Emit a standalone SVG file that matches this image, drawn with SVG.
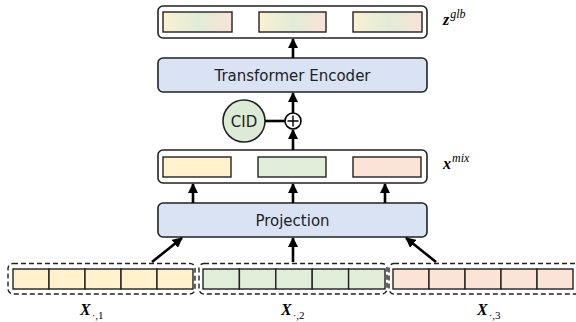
<svg xmlns="http://www.w3.org/2000/svg" width="576" height="322" viewBox="0 0 576 322">
<defs>
<linearGradient id="mixg" x1="0" y1="0" x2="1" y2="0">
<stop offset="0" stop-color="#fdf0d0"/>
<stop offset="0.5" stop-color="#e0ecd8"/>
<stop offset="1" stop-color="#f9e3d6"/>
</linearGradient>
<marker id="ah" viewBox="0 0 10 10" refX="9" refY="5" markerWidth="4" markerHeight="4" orient="auto" markerUnits="strokeWidth">
<path d="M0,0 L10,5 L0,10 z" fill="#000"/>
</marker>
</defs>
<style>
.outer{fill:#fff;stroke:#222;stroke-width:1.6}
.blue{fill:#dae3f3;stroke:#222;stroke-width:1.6}
.cell{stroke:#222;stroke-width:1.4}
.y{fill:#fff2cd}
.g{fill:#e0edd8}
.p{fill:#fbe3d6}
.dash{fill:none;stroke:#222;stroke-width:1.4;stroke-dasharray:5,3}
.lbl{font-family:"DejaVu Sans",sans-serif;font-size:15px;fill:#222;text-anchor:middle}
.math{font-family:"Liberation Serif",serif;fill:#000}
.conn{stroke:#000;stroke-width:2.6;fill:none;marker-end:url(#ah)}
</style>
<g id="zglb">
<rect class="outer" x="158" y="6" width="269" height="32" rx="5"/>
<rect class="cell" fill="url(#mixg)" x="163" y="12" width="69" height="20"/>
<rect class="cell" fill="url(#mixg)" x="259" y="12" width="67" height="20"/>
<rect class="cell" fill="url(#mixg)" x="353" y="12" width="69" height="20"/>
<text class="math" x="443" y="25" font-size="16"><tspan font-weight="bold" font-style="italic">z</tspan><tspan font-style="italic" font-size="12" dy="-7" dx="1">glb</tspan></text>
</g>
<g id="transformer">
<rect class="blue" x="158" y="58" width="269" height="34" rx="5"/>
<text class="lbl" x="292.5" y="80.5">Transformer Encoder</text>
</g>
<g id="cid">
<circle cx="244" cy="121" r="21" fill="#dcebd5" stroke="#222" stroke-width="1.6"/>
<text class="lbl" x="244" y="126.5">CID</text>
</g>
<g id="plus">
<circle cx="293" cy="121" r="8" fill="#fff" stroke="#000" stroke-width="1.6"/>
<path d="M287.5,121 H298.5 M293,115.5 V126.5" stroke="#000" stroke-width="1.4"/>
</g>
<g id="xmix">
<rect class="outer" x="158" y="150" width="269" height="33" rx="5"/>
<rect class="cell y" x="163" y="157" width="68" height="20"/>
<rect class="cell g" x="258" y="157" width="68" height="20"/>
<rect class="cell p" x="353" y="157" width="68" height="20"/>
<text class="math" x="443" y="169" font-size="16"><tspan font-weight="bold" font-style="italic">x</tspan><tspan font-style="italic" font-size="12" dy="-7" dx="1">mix</tspan></text>
</g>
<g id="projection">
<rect class="blue" x="158" y="203" width="269" height="34" rx="5"/>
<text class="lbl" x="292.5" y="225.5">Projection</text>
</g>
<g id="x1">
<rect class="dash" x="8" y="263.5" width="187" height="30.5" rx="5"/>
<rect class="cell y" x="13" y="269" width="36" height="20"/>
<rect class="cell y" x="49" y="269" width="36" height="20"/>
<rect class="cell y" x="85" y="269" width="36" height="20"/>
<rect class="cell y" x="121" y="269" width="36" height="20"/>
<rect class="cell y" x="157" y="269" width="36" height="20"/>
<text class="math" x="80" y="315" font-size="16"><tspan font-weight="bold" font-style="italic">X</tspan><tspan font-size="11" dy="4" dx="1">·,1</tspan></text>
</g>
<g id="x2">
<rect class="dash" x="199" y="263.5" width="188" height="30.5" rx="5"/>
<rect class="cell g" x="203" y="269" width="36.4" height="20"/>
<rect class="cell g" x="239.4" y="269" width="36.4" height="20"/>
<rect class="cell g" x="275.8" y="269" width="36.4" height="20"/>
<rect class="cell g" x="312.2" y="269" width="36.4" height="20"/>
<rect class="cell g" x="348.6" y="269" width="36.4" height="20"/>
<text class="math" x="281" y="315" font-size="16"><tspan font-weight="bold" font-style="italic">X</tspan><tspan font-size="11" dy="4" dx="1">·,2</tspan></text>
</g>
<g id="x3">
<rect class="dash" x="389" y="263.5" width="192" height="30.5" rx="5"/>
<rect class="cell p" x="393" y="269" width="36" height="20"/>
<rect class="cell p" x="429" y="269" width="36" height="20"/>
<rect class="cell p" x="465" y="269" width="36" height="20"/>
<rect class="cell p" x="501" y="269" width="36" height="20"/>
<rect class="cell p" x="537" y="269" width="36" height="20"/>
<text class="math" x="477" y="315" font-size="16"><tspan font-weight="bold" font-style="italic">X</tspan><tspan font-size="11" dy="4" dx="1">·,3</tspan></text>
</g>
<g id="connectors">
<line class="conn" x1="293" y1="58" x2="293" y2="39"/>
<line class="conn" x1="293" y1="113" x2="293" y2="93"/>
<line class="conn" x1="293" y1="150" x2="293" y2="130"/>
<line x1="265" y1="121" x2="285" y2="121" stroke="#000" stroke-width="2.6"/>
<line class="conn" x1="193" y1="203" x2="193" y2="184"/>
<line class="conn" x1="293" y1="203" x2="293" y2="184"/>
<line class="conn" x1="385" y1="203" x2="385" y2="184"/>
<line class="conn" x1="152" y1="262" x2="182" y2="238"/>
<line class="conn" x1="293" y1="262" x2="293" y2="238"/>
<line class="conn" x1="436" y1="262" x2="406" y2="238"/>
</g>
</svg>
